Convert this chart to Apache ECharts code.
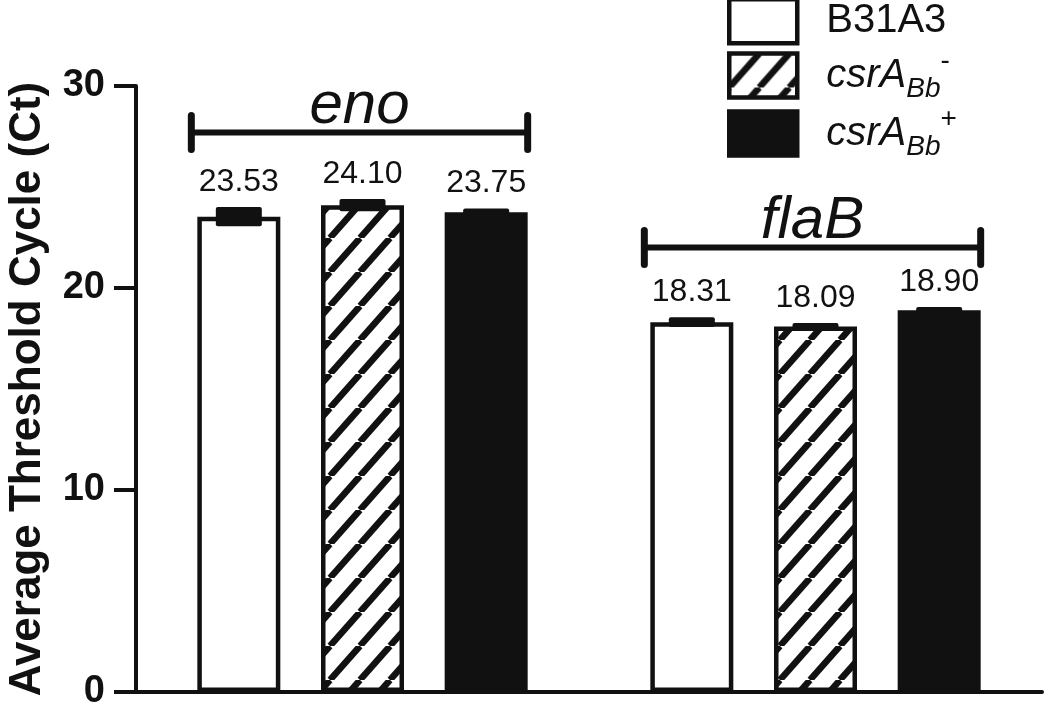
<!DOCTYPE html>
<html><head><meta charset="utf-8">
<script src="https://cdn.jsdelivr.net/npm/echarts@6/dist/echarts.min.js"></script>
<style>html,body{margin:0;padding:0;background:#fff}#c{width:1050px;height:712px}</style>
</head><body><div id="c"></div>
<script>
// ---- data ----
const genes = ['eno', 'flaB'];
const strainNames = ['B31A3', 'csrA-', 'csrA+'];
const b31a3 = [23.53, 18.31];
const csrAminus = [24.10, 18.09];
const csrAplus = [23.75, 18.90];
const b31a3Err = [0.35, 0.12];
const csrAminusErr = [0.18, 0.05];
const csrAplusErr = [0.06, 0.04];
const yTicks = [0, 10, 20, 30];

// ---- style constants ----
const FONT = "'Liberation Sans', Arial, sans-serif";
const INK = '#111';
const BAR_W = 83, BAR_GAP = 0.49;
const STEP = BAR_W * (1 + BAR_GAP);
const BRACKET_LEVEL = [27.7, 22.0];

function hatch() {
  const w = 30, h = 34;
  const c = document.createElement('canvas');
  c.width = w; c.height = h;
  const g = c.getContext('2d');
  g.fillStyle = '#fff'; g.fillRect(0, 0, w, h);
  g.strokeStyle = INK; g.lineWidth = 6.5; g.lineCap = 'butt';
  for (let k = -1; k <= 1; k++) {
    g.beginPath(); g.moveTo(k * w, h); g.lineTo(k * w + w, 0); g.stroke();
  }
  return { image: c, repeat: 'repeat' };
}

const series = [b31a3, csrAminus, csrAplus];
const errs = [b31a3Err, csrAminusErr, csrAplusErr];
const fills = ['#fff', hatch(), INK];

const errData = [];
series.forEach((vals, k) => vals.forEach((v, i) => errData.push([i, k, v, errs[k][i]])));

function errRender(params, api) {
  const cat = api.value(0), k = api.value(1), m = api.value(2), e = api.value(3);
  const c = api.coord([cat, m]);
  const top = api.coord([cat, m + e])[1] - 2.5;
  const bot = api.coord([cat, m - e])[1] + 2.5;
  const cx = c[0] + (k - 1) * STEP;
  return {
    type: 'group',
    children: [
      { type: 'rect', shape: { x: cx - 23, y: top, width: 46, height: bot - top, r: 2 }, style: { fill: INK } },
      { type: 'text', x: cx, y: top - 9, style: { text: m.toFixed(2), fontSize: 32, fontFamily: FONT, fill: INK, align: 'center', verticalAlign: 'bottom' } }
    ]
  };
}

function bracketRender(params, api) {
  const cat = api.value(0), lvl = api.value(1);
  const p = api.coord([cat, lvl]);
  const half = (3 * BAR_W + 2 * BAR_W * BAR_GAP) / 2 + 3;
  const x0 = p[0] - half - 3, x1 = p[0] + half - 3;
  const st = { stroke: INK, lineWidth: 6, lineCap: 'round' };
  return {
    type: 'group',
    children: [
      { type: 'line', shape: { x1: x0, y1: p[1], x2: x1, y2: p[1] }, style: st },
      { type: 'line', shape: { x1: x0, y1: p[1] - 17, x2: x0, y2: p[1] + 17 }, style: Object.assign({}, st, { lineWidth: 7 }) },
      { type: 'line', shape: { x1: x1, y1: p[1] - 17, x2: x1, y2: p[1] + 17 }, style: Object.assign({}, st, { lineWidth: 7 }) },
      { type: 'text', x: (x0 + x1) / 2, y: p[1] + 4, style: { text: genes[cat], fontSize: 60, fontStyle: 'italic', fontFamily: FONT, fill: INK, align: 'center', verticalAlign: 'bottom' } }
    ]
  };
}

const chart = echarts.init(document.getElementById('c'), null, { renderer: 'canvas' });
chart.setOption({
  animation: false,
  backgroundColor: '#fff',
  textStyle: { fontFamily: FONT, color: INK },
  grid: { left: 136, right: 8, top: 86, bottom: 20, containLabel: false, outerBoundsMode: 'none' },
  legend: {
    left: 722, top: -8, orient: 'vertical',
    itemWidth: 68, itemHeight: 44, itemGap: 2,
    icon: 'rect',
    itemStyle: { borderColor: INK, borderWidth: 4.5 },
    data: strainNames,
    formatter: function (name) {
      if (name === 'B31A3') return '{n|B31A3}';
      return '{it|csrA}{sub|Bb}{sup|' + (name === 'csrA-' ? '-' : '+') + '}';
    },
    textStyle: {
      fontFamily: FONT, color: INK, fontSize: 40, padding: [0, 0, 0, 24],
      rich: {
        n: { fontSize: 40, lineHeight: 56, fontFamily: FONT, color: INK },
        it: { fontSize: 40, lineHeight: 56, fontStyle: 'italic', fontFamily: FONT, color: INK },
        sub: { fontSize: 28, lineHeight: 28, fontStyle: 'italic', verticalAlign: 'bottom', fontFamily: FONT, color: INK },
        sup: { fontSize: 28, lineHeight: 28, verticalAlign: 'top', fontFamily: FONT, color: INK }
      }
    }
  },
  xAxis: {
    type: 'category', data: genes,
    axisLine: { show: true, lineStyle: { color: INK, width: 4 } },
    axisTick: { show: false }, axisLabel: { show: false }, splitLine: { show: false }
  },
  yAxis: {
    type: 'value', min: yTicks[0], max: yTicks[yTicks.length - 1], interval: yTicks[1] - yTicks[0],
    name: 'Average Threshold Cycle (Ct)', nameLocation: 'middle', nameGap: 86,
    nameTextStyle: { fontSize: 44, fontWeight: 'bold', fontFamily: FONT, color: INK },
    axisLine: { show: true, lineStyle: { color: INK, width: 4 } },
    axisTick: { show: true, length: 22, lineStyle: { color: INK, width: 4 } },
    axisLabel: { fontSize: 38, fontWeight: 'bold', fontFamily: FONT, color: INK, margin: 31, padding: [0, 0, 10, 0] },
    splitLine: { show: false }
  },
  series: [
    ...series.map((vals, k) => ({
      name: strainNames[k], type: 'bar', data: vals,
      barWidth: BAR_W, barGap: (BAR_GAP * 100) + '%',
      itemStyle: { color: fills[k], borderColor: INK, borderWidth: 4.5 },
      z: 2
    })),
    { type: 'custom', data: errData, renderItem: errRender, encode: { x: 0, y: 2 }, z: 5, silent: true },
    { type: 'custom', data: genes.map((g, i) => [i, BRACKET_LEVEL[i]]), renderItem: bracketRender, encode: { x: 0, y: 1 }, z: 5, silent: true }
  ]
});
</script>
</body></html>
